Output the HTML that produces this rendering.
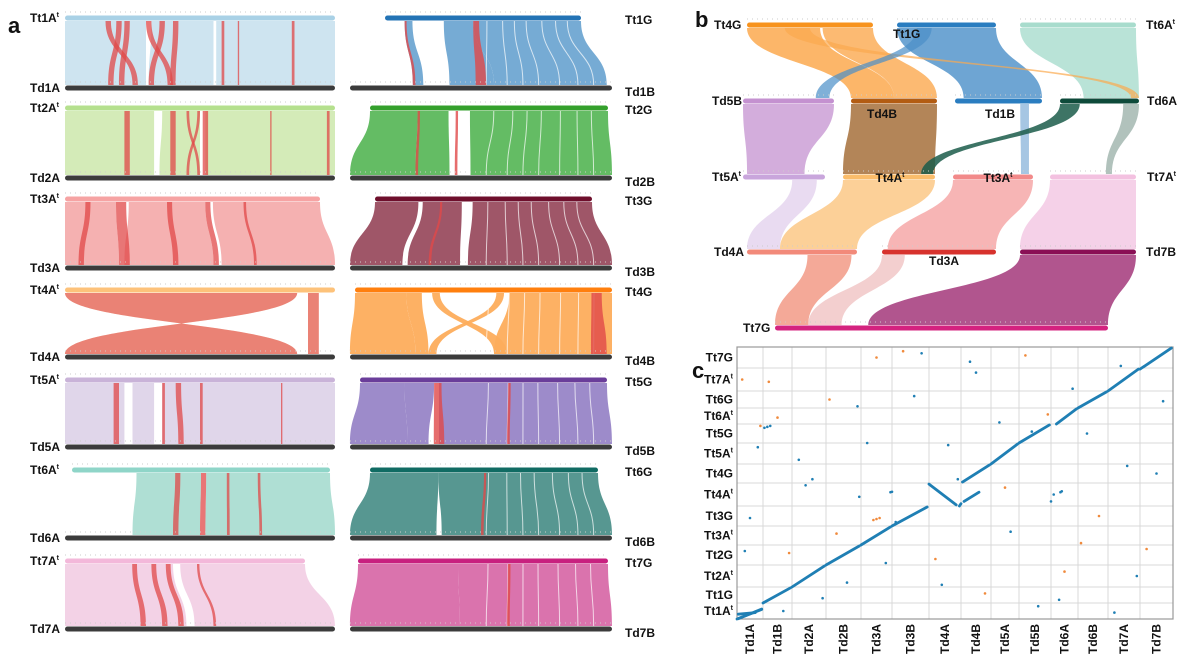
<!DOCTYPE html>
<html><head><meta charset="utf-8">
<style>
html,body{margin:0;padding:0;background:#fff;}
svg{display:block;font-family:"Liberation Sans",sans-serif;}
</style></head>
<body>
<svg id="fig" width="1200" height="672" viewBox="0 0 1200 672" xmlns="http://www.w3.org/2000/svg"></svg>
<script>
// ---------- Panel a data ----------
const aTopNames=['Tt1A','Tt2A','Tt3A','Tt4A','Tt5A','Tt6A','Tt7A'];
const aBotNames=['Td1A','Td2A','Td3A','Td4A','Td5A','Td6A','Td7A'];
const gTopNames=['Tt1G','Tt2G','Tt3G','Tt4G','Tt5G','Tt6G','Tt7G'];
const gBotNames=['Td1B','Td2B','Td3B','Td4B','Td5B','Td6B','Td7B'];
const aTopExtent=[[65,335],[65,335],[65,320],[65,335],[65,335],[72,330],[65,305]];
const gTopExtent=[[385,581],[370,608],[375,592],[355,612],[360,607],[370,598],[358,608]];
const aBarColor=['#a9d1e6','#b5e08e','#f6a3a3','#fdc27a','#c9b3d8','#8fd5c8','#f3b8da'];
const aRibColor=['#c9e1ee','#cfe9b0','#f4a9a9','#e86a6a','#ddd2e8','#a6dccf','#f2cde3'];
const gBarColor=['#2373b5','#34a02c','#6e0f2c','#ff7f0e','#6a3d9a','#106b63','#c8207f'];
const gRibColor=['#6fa7d2','#5cb85c','#9a4d60','#fdad5c','#9885c7','#4e918b','#d86ba9'];
const aBlocks=[
 [[0,0.3,0,0.3],[0.32,0.55,0.31,0.55],[0.56,1,0.56,1]],
 [[0,0.33,0,0.33],[0.36,0.5,0.35,0.5],[0.52,1,0.52,1]],
 [[0,0.2,0,0.2],[0.25,0.55,0.22,0.55],[0.58,1,0.58,1]],
 [[0.0,0.86,0.86,0.0],[0.9,0.94,0.9,0.94]],
 [[0,0.22,0,0.22],[0.25,0.33,0.25,0.33],[0.36,1,0.36,1]],
 [[0.25,0.5,0.25,0.5],[0.52,1,0.52,1]],
 [[0,0.45,0,0.45],[0.48,1,0.48,1]]
];
const aRed=[
 [[0.15,0.17,0.25,0.27],[0.19,0.21,0.16,0.18],[0.22,0.24,0.2,0.22],[0.3,0.32,0.38,0.4],[0.35,0.37,0.31,0.33],[0.4,0.42,0.39,0.41],[0.58,0.59,0.58,0.59],[0.64,0.645,0.64,0.645],[0.84,0.85,0.84,0.85]],
 [[0.22,0.24,0.22,0.24],[0.39,0.41,0.39,0.41],[0.45,0.46,0.49,0.5],[0.49,0.5,0.45,0.46],[0.51,0.53,0.51,0.53],[0.76,0.765,0.76,0.765],[0.97,0.98,0.97,0.98]],
 [[0.08,0.1,0.05,0.07],[0.2,0.24,0.2,0.24],[0.4,0.42,0.4,0.42],[0.55,0.57,0.55,0.57],[0.7,0.71,0.7,0.71]],
 [[0.0,0.86,0.86,0.0],[0.9,0.94,0.9,0.94]],
 [[0.18,0.2,0.18,0.2],[0.36,0.37,0.36,0.37],[0.41,0.43,0.42,0.44],[0.5,0.51,0.5,0.51],[0.8,0.805,0.8,0.805]],
 [[0.4,0.42,0.4,0.42],[0.5,0.52,0.5,0.52],[0.6,0.61,0.6,0.61],[0.72,0.73,0.72,0.73]],
 [[0.28,0.3,0.28,0.3],[0.36,0.38,0.36,0.38],[0.42,0.44,0.42,0.44],[0.55,0.56,0.55,0.56]]
];
const gBlocks=[
 [[0.1,0.14,0.24,0.28],[0.3,0.45,0.38,0.55],[0.45,1,0.55,0.98]],
 [[0,0.2,0,0.25],[0.2,0.33,0.25,0.38],[0.42,1,0.46,1]],
 [[0,0.2,0,0.2],[0.22,0.4,0.22,0.42],[0.45,1,0.45,1]],
 [[0,0.2,0,0.25],[0.2,0.26,0.25,0.3],[0.6,1,0.55,1],[0.3,0.33,0.55,0.6],[0.55,0.58,0.3,0.33]],
 [[0,0.18,0,0.22],[0.18,0.3,0.22,0.3],[0.32,1,0.34,1]],
 [[0,0.3,0,0.33],[0.3,1,0.35,1]],
 [[0,0.4,0,0.42],[0.4,1,0.42,1]]
];
const gRed=[
 [[0.45,0.48,0.48,0.52],[0.1,0.11,0.24,0.25]],
 [[0.2,0.21,0.25,0.26],[0.36,0.37,0.4,0.41]],
 [[0.3,0.31,0.3,0.31]],
 [[0.92,0.96,0.92,0.98]],
 [[0.3,0.33,0.32,0.36],[0.6,0.61,0.6,0.61]],
 [[0.5,0.51,0.5,0.51]],
 [[0.6,0.61,0.6,0.61]]
];
// thin white gaps inside the G-vs-B ribbons (fractions along the bar)
const gGaps=[0.52,0.6,0.66,0.72,0.8,0.87,0.93];
const aTopY=[18,108,199,290,380,470,561];
const aBotY=[88,178,268,357,447,538,629];

// ---------- Panel b data ----------
const bBarNames=['Tt4G','Tt1G','Tt6A','Td5B','Td4B','Td1B','Td6A','Tt5A','Tt4A','Tt3A','Tt7A','Td4A','Td3A','Td7B','Tt7G'];
const bBarX0=[747,897,1020,743,851,955,1060,743,843,953,1050,747,882,1020,775];
const bBarX1=[873,996,1136,834,937,1042,1139,825,935,1033,1136,857,996,1136,1108];
const bBarY=[25,25,25,101,101,101,101,177,177,177,177,252,252,252,328];
const bBarColor=['#f7931e','#2a7dc0','#a8dccd','#c491d0','#b35c12','#2a7dc0','#0e4a3a','#c9a6dc','#fbbd6b','#f28a8a','#f3c1e0','#f28a7a','#d7322d','#8a0f55','#d4237f'];
const linkFrom=[0,0,1,2,3,4,5,6,6,8,9,10,11,13,12,7,0,1];
const linkF0=[0.0,0.6,0.0,0.0,0.0,0.0,0.75,0.0,0.8,0.0,0.0,0.0,0.55,0.0,0.0,0.6,0.3,0.2];
const linkF1=[0.58,1.0,1.0,1.0,1.0,1.0,0.85,0.25,1.0,1.0,1.0,1.0,0.95,1.0,0.2,0.9,0.5,0.35];
const linkTo=[4,4,5,6,7,8,9,8,10,11,12,13,14,14,14,11,6,3];
const linkT0=[0.0,0.5,0.1,0.3,0.05,0.0,0.85,0.85,0.65,0.3,0.05,0.0,0.0,0.28,0.1,0.0,0.9,0.8];
const linkT1=[0.5,1.0,1.0,1.0,0.75,1.0,0.95,0.98,0.72,1.0,1.0,1.0,0.1,1.0,0.2,0.3,1.0,0.95];
const linkColor=['#fba94f','#fba94f','#4a8fc8','#a8dccd','#c491d0','#a0672e','#6aa0d0','#1b5c4a','#7d9a90','#fbc47e','#f5a3a3','#f3c6e2','#f29a86','#a3377a','#e8a0a0','#c9a6dc','#fba94f','#4a8fc8'];
const linkOpacity=[0.85,0.8,0.8,0.8,0.75,0.8,0.6,0.85,0.6,0.8,0.8,0.8,0.85,0.85,0.5,0.4,0.7,0.7];

// ---------- Panel c data ----------
const tdNames=['Td1A','Td1B','Td2A','Td2B','Td3A','Td3B','Td4A','Td4B','Td5A','Td5B','Td6A','Td6B','Td7A','Td7B'];
const tdSizes=[26,29,34,35,31,37,32,30,28,32,27,30,32,33];
const ttNames=['Tt1A','Tt1G','Tt2A','Tt2G','Tt3A','Tt3G','Tt4A','Tt4G','Tt5A','Tt5G','Tt6A','Tt6G','Tt7A','Tt7G'];
const ttSizes=[16,16,22,20,19,20,23,19,21,19,16,17,23,21];
const ttSup=[1,0,1,0,1,0,1,0,1,0,1,0,1,0];
const segX0=[0.0,0.05,1.0,2.0,3.0,4.0,5.0,6.0,6.95,7.05,8.0,9.0,10.2,11.0,12.0,13.0,0.05,7.1];
const segX1=[0.95,0.95,1.95,2.95,3.95,4.95,5.95,6.85,7.0,7.95,8.95,9.95,10.95,11.95,12.95,13.95,0.7,7.6];
const segY0=[0.0,0.02,1.0,2.0,3.0,4.0,5.0,6.95,6.0,7.05,8.0,9.0,10.0,11.0,12.0,12.95,0.3,6.2];
const segY1=[0.6,0.62,1.95,2.95,3.95,4.95,5.95,6.05,6.1,7.95,8.95,9.95,10.95,11.95,12.95,13.95,0.4,6.6];
const dotX=[0.2,0.3,0.8,1.5,1.7,2.6,3.1,3.6,4.2,4.5,5.1,5.6,6.2,6.6,7.3,7.8,8.3,8.7,9.2,9.6,10.0,10.5,10.8,11.3,11.7,12.2,12.6,13.2,13.7,0.5,1.2,2.2,2.9,3.3,3.9,4.8,5.3,6.4,7.5,8.5,9.4,10.3,11.1,12.4,13.5,1.9,2.4,5.8,9.9,12.9,3.95,10.1,0.9,6.9,1.05,1.15,1.25,4.95,5.0,10.35,10.4,4.4,4.5,4.6];
const dotY=[12.5,3.7,8.8,10.4,0.5,7.2,11.5,2.2,9.0,13.5,5.2,11.7,3.3,8.9,13.3,1.6,10.1,4.7,13.6,0.8,6.2,2.7,12.1,9.5,5.5,0.4,7.9,3.8,11.4,5.4,12.4,8.2,1.3,4.6,11.1,3.1,13.8,2.1,12.8,6.8,9.6,1.2,4.1,13.1,7.5,3.6,6.9,13.7,10.6,2.5,6.4,6.5,9.9,7.2,9.8,9.85,9.9,6.6,6.62,6.6,6.64,5.3,5.35,5.4];
const dotOrange=[1,0,0,1,0,0,1,0,0,1,0,0,1,0,0,1,0,0,1,0,0,1,0,0,1,0,0,1,0,0,1,0,0,1,0,0,1,0,0,1,0,0,1,0,0,1,0,0,1,0,0,0,1,0,0,0,0,0,0,0,0,1,1,1];

// ---------- helpers ----------
const NS='http://www.w3.org/2000/svg';
const svg=document.getElementById('fig');
function mk(tag,attrs,name,parent){
  const el=document.createElementNS(NS,tag);
  for(const k in attrs) el.setAttribute(k,attrs[k]);
  
  
  (parent||svg).appendChild(el);
  return el;
}
function ribPath(x0,x1,y0,u0,u1,y1){
  const ym=(y0+y1)/2;
  return `M${x0},${y0}C${x0},${ym} ${u0},${ym} ${u0},${y1}L${u1},${y1}C${u1},${ym} ${x1},${ym} ${x1},${y0}Z`;
}
function rib(x0,x1,y0,u0,u1,y1,color,op,name,g){
  return mk('path',{d:ribPath(x0,x1,y0,u0,u1,y1),fill:color,'fill-opacity':op},name,g);
}
function label(x,y,txt,sup,anchor,name,size){
  const t=mk('text',{x:x,y:y,'font-size':size||12,'font-weight':'bold','text-anchor':anchor||'start',fill:'#111'},name);
  t.appendChild(document.createTextNode(txt));
  if(sup){const s=mk('tspan',{'font-size':7,dy:-5},name+'-superscript',t);s.textContent='t';}
  return t;
}
function bar(x0,x1,y,color,name,g){
  mk('line',{x1:x0,x2:x1,y1:y-6,y2:y-6,stroke:'#ccc','stroke-width':1,'stroke-dasharray':'1 4'},name+'-ticks',g);
  return mk('rect',{x:x0,y:y-2.5,width:x1-x0,height:5,rx:2.5,fill:color},name,g);
}

// ---------- Panel a ----------
label(8,33,'a',0,'start','panel-label-a',22);
const ga=mk('g',{},'panel-a');
for(let i=0;i<7;i++){
  const yt=aTopY[i]+3, yb=aBotY[i]-3;
  const [lx0,lx1]=aTopExtent[i]; const bx0=65,bx1=335;
  const lw=lx1-lx0,bw=bx1-bx0;
  aBlocks[i].forEach((b,k)=>{rib(lx0+b[0]*lw,lx0+b[1]*lw,yt,bx0+b[2]*bw,bx0+b[3]*bw,yb,i==3?'#f7c08a':aRibColor[i],i==3?0.6:0.9,'ribbon-'+aTopNames[i].toLowerCase()+'-'+k,ga);});
  aRed[i].forEach((b,k)=>{rib(lx0+b[0]*lw,lx0+b[1]*lw,yt,bx0+b[2]*bw,bx0+b[3]*bw,yb,'#e04848',i==3?0.6:0.75,'inversion-'+aTopNames[i].toLowerCase()+'-'+k,ga);});
  bar(lx0,lx1,aTopY[i],aBarColor[i],'bar-'+aTopNames[i].toLowerCase(),ga);
  bar(65,335,aBotY[i],'#3b3b3b','bar-'+aBotNames[i].toLowerCase(),ga);
  label(30,aTopY[i]+4,aTopNames[i],1,'start','label-'+aTopNames[i].toLowerCase());
  label(30,aBotY[i]+4,aBotNames[i],0,'start','label-'+aBotNames[i].toLowerCase());
  const [rx0,rx1]=gTopExtent[i]; const cx0=350,cx1=612;
  const rw=rx1-rx0,cw=cx1-cx0;
  gBlocks[i].forEach((b,k)=>{rib(rx0+b[0]*rw,rx0+b[1]*rw,yt,cx0+b[2]*cw,cx0+b[3]*cw,yb,gRibColor[i],0.95,'ribbon-'+gTopNames[i].toLowerCase()+'-'+k,ga);});
  gGaps.forEach((f,k)=>{const p=mk('path',{d:ribPath(rx0+f*rw,rx0+f*rw,yt,cx0+f*cw,cx0+f*cw,yb),fill:'none',stroke:'#fff','stroke-width':1,'stroke-opacity':0.7},'ribbon-gap-'+gTopNames[i].toLowerCase()+'-'+k,ga);});
  gRed[i].forEach((b,k)=>{rib(rx0+b[0]*rw,rx0+b[1]*rw,yt,cx0+b[2]*cw,cx0+b[3]*cw,yb,'#e04848',0.8,'inversion-'+gTopNames[i].toLowerCase()+'-'+k,ga);});
  bar(rx0,rx1,aTopY[i],gBarColor[i],'bar-'+gTopNames[i].toLowerCase(),ga);
  bar(350,612,aBotY[i],'#3b3b3b','bar-'+gBotNames[i].toLowerCase(),ga);
  label(625,aTopY[i]+6,gTopNames[i],0,'start','label-'+gTopNames[i].toLowerCase());
  label(625,aBotY[i]+8,gBotNames[i],0,'start','label-'+gBotNames[i].toLowerCase());
}

// ---------- Panel b ----------
label(695,27,'b',0,'start','panel-label-b',22);
const gb=mk('g',{},'panel-b');
for(let k=0;k<linkFrom.length;k++){
  const f=linkFrom[k],t=linkTo[k];
  const fw=bBarX1[f]-bBarX0[f],tw=bBarX1[t]-bBarX0[t];
  rib(bBarX0[f]+linkF0[k]*fw,bBarX0[f]+linkF1[k]*fw,bBarY[f]+3,bBarX0[t]+linkT0[k]*tw,bBarX0[t]+linkT1[k]*tw,bBarY[t]-3,linkColor[k],linkOpacity[k],'link-'+bBarNames[f].toLowerCase()+'-'+bBarNames[t].toLowerCase(),gb);
}
for(let i=0;i<bBarNames.length;i++) bar(bBarX0[i],bBarX1[i],bBarY[i],bBarColor[i],'bbar-'+bBarNames[i].toLowerCase(),gb);
const bLabX=[714,893,1146,712,882,1000,1147,712,890,998,1147,714,944,1146,743];
const bLabY=[29,38,29,105,118,118,105,181,182,182,181,256,265,256,332];
const bLabA=['start','start','start','start','middle','middle','start','start','middle','middle','start','start','middle','start','start'];
for(let i=0;i<bBarNames.length;i++){
  const n=bBarNames[i];
  label(bLabX[i],bLabY[i],n,/^Tt\dA/.test(n)?1:0,bLabA[i],'blabel-'+n.toLowerCase());
}

// ---------- Panel c ----------
label(692,378,'c',0,'start','panel-label-c',22);
const gc=mk('g',{},'panel-c');
const PX0=737,PX1=1173,PY0=347,PY1=619;
const tdTot=tdSizes.reduce((a,b)=>a+b,0), ttTot=ttSizes.reduce((a,b)=>a+b,0);
const tdStart=[],ttStart=[];let acc=0;
tdSizes.forEach(s=>{tdStart.push(acc);acc+=s;});acc=0;
ttSizes.forEach(s=>{ttStart.push(acc);acc+=s;});
function xs(u){const i=Math.min(13,Math.floor(u));return PX0+(tdStart[i]+(u-i)*tdSizes[i])/tdTot*(PX1-PX0);}
function ys(v){const i=Math.min(13,Math.floor(v));return PY1-(ttStart[i]+(v-i)*ttSizes[i])/ttTot*(PY1-PY0);}
for(let i=1;i<14;i++){
  mk('line',{x1:xs(i),x2:xs(i),y1:PY0,y2:PY1,stroke:'#d8d8d8','stroke-width':1},'grid-x-'+i,gc);
  mk('line',{x1:PX0,x2:PX1,y1:ys(i),y2:ys(i),stroke:'#d8d8d8','stroke-width':1},'grid-y-'+i,gc);
}
mk('rect',{x:PX0,y:PY0,width:PX1-PX0,height:PY1-PY0,fill:'none',stroke:'#999','stroke-width':1.2},'plot-frame',gc);
for(let k=0;k<segX0.length;k++){
  mk('line',{x1:xs(segX0[k]),y1:ys(segY0[k]),x2:xs(segX1[k]),y2:ys(segY1[k]),stroke:'#1f7fb4','stroke-width':2.8,'stroke-linecap':'round'},'collinear-segment-'+k,gc);
}
for(let k=0;k<dotX.length;k++){
  mk('circle',{cx:xs(dotX[k]),cy:ys(dotY[k]),r:1.3,fill:dotOrange[k]?'#f08a3c':'#1f7fb4'},'dot-'+k,gc);
}
for(let i=0;i<14;i++){
  const yc=(ys(i)+ys(i+0.999))/2;
  label(733,yc+4,ttNames[i],ttSup[i],'end','ylabel-'+ttNames[i].toLowerCase());
  const xc=(xs(i)+xs(i+0.999))/2;
  const t=mk('text',{x:0,y:0,'font-size':12,'font-weight':'bold','text-anchor':'end',fill:'#111',transform:`translate(${xc+4},${PY1+5}) rotate(-90)`},'xlabel-'+tdNames[i].toLowerCase());
  t.textContent=tdNames[i];
}
</script>
</body></html>
